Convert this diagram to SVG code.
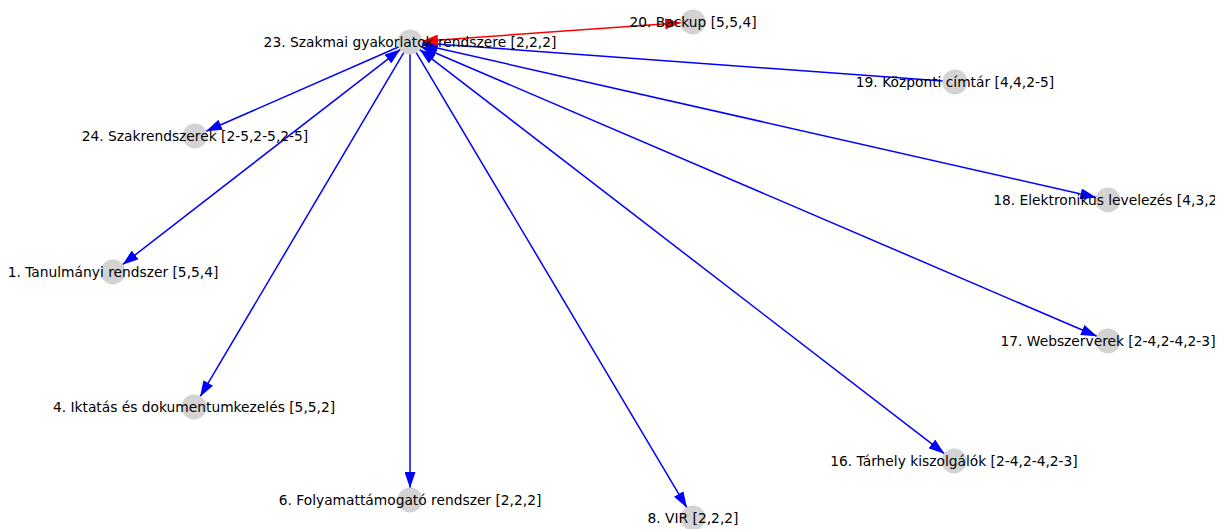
<svg xmlns="http://www.w3.org/2000/svg" width="1223" height="529" viewBox="0 0 1223 529">
  <style>
    .node circle { fill: #d3d3d3; }
    .node text { font-family: "DejaVu Sans", sans-serif; font-size: 13.8px; fill: #000; text-anchor: middle; dominant-baseline: central; }
    .edge { stroke-width: 1.5; fill: none; }
    .blue { stroke: #0000ff; }
    .red { stroke: #ff0000; }
  </style>
  <defs>
    <marker id="ab" viewBox="0 0 16 11" refX="16" refY="5.5" markerWidth="16" markerHeight="11" markerUnits="userSpaceOnUse" orient="auto-start-reverse">
      <path d="M0,0 L16,5.5 L0,11 Z" fill="#0000ff"/>
    </marker>
    <marker id="ar" viewBox="0 0 16 11" refX="16" refY="5.5" markerWidth="16" markerHeight="11" markerUnits="userSpaceOnUse" orient="auto-start-reverse">
      <path d="M0,0 L16,5.5 L0,11 Z" fill="#ff0000"/>
    </marker>
    <clipPath id="frame"><rect x="0" y="0" width="1215" height="529"/></clipPath>
  </defs>
  <rect width="1223" height="529" fill="#fff"/>

  <!-- edges from node 23 outward; shortened by the node radius at both ends -->
  <g id="connectors">
    <line class="edge blue" x1="399.0" y1="46.8" x2="206.0" y2="131.2" marker-end="url(#ab)"/>
    <line class="edge blue" x1="400.5" y1="49.3" x2="122.5" y2="264.7" marker-start="url(#ab)" marker-end="url(#ab)"/>
    <line class="edge blue" x1="403.9" y1="52.3" x2="200.1" y2="396.7" marker-end="url(#ab)"/>
    <line class="edge blue" x1="410" y1="54" x2="410" y2="488" marker-end="url(#ab)"/>
    <line class="edge blue" x1="416.1" y1="52.3" x2="686.9" y2="507.7" marker-end="url(#ab)"/>
    <line class="edge blue" x1="419.5" y1="49.3" x2="944.5" y2="453.7" marker-start="url(#ab)" marker-end="url(#ab)"/>
    <line class="edge blue" x1="421.0" y1="46.7" x2="1097.0" y2="336.3" marker-start="url(#ab)" marker-end="url(#ab)"/>
    <line class="edge blue" x1="421.7" y1="44.6" x2="1096.3" y2="197.4" marker-start="url(#ab)" marker-end="url(#ab)"/>
    <line class="edge blue" x1="422.0" y1="42.9" x2="943.0" y2="81.1" marker-start="url(#ab)"/>
    <line class="edge red" x1="422.0" y1="41.2" x2="681.0" y2="22.8" marker-start="url(#ar)" marker-end="url(#ar)"/>
  </g>

  <g clip-path="url(#frame)">
    <g id="n23" class="node"><circle cx="410" cy="42" r="12.5"/><text x="410" y="42">23. Szakmai gyakorlatok rendszere [2,2,2]</text></g>
    <g id="n20" class="node"><circle cx="693" cy="22" r="12.5"/><text x="693" y="22">20. Backup [5,5,4]</text></g>
    <g id="n19" class="node"><circle cx="955" cy="82" r="12.5"/><text x="955" y="82">19. Központi címtár [4,4,2-5]</text></g>
    <g id="n24" class="node"><circle cx="195" cy="136" r="12.5"/><text x="195" y="136">24. Szakrendszerek [2-5,2-5,2-5]</text></g>
    <g id="n18" class="node"><circle cx="1108" cy="200" r="12.5"/><text x="1108" y="200">18. Elektronikus levelezés [4,3,2]</text></g>
    <g id="n1" class="node"><circle cx="113" cy="272" r="12.5"/><text x="113" y="272">1. Tanulmányi rendszer [5,5,4]</text></g>
    <g id="n17" class="node"><circle cx="1108" cy="341" r="12.5"/><text x="1108" y="341">17. Webszerverek [2-4,2-4,2-3]</text></g>
    <g id="n4" class="node"><circle cx="194" cy="407" r="12.5"/><text x="194" y="407">4. Iktatás és dokumentumkezelés [5,5,2]</text></g>
    <g id="n16" class="node"><circle cx="954" cy="461" r="12.5"/><text x="954" y="461">16. Tárhely kiszolgálók [2-4,2-4,2-3]</text></g>
    <g id="n6" class="node"><circle cx="410" cy="500" r="12.5"/><text x="410" y="500">6. Folyamattámogató rendszer [2,2,2]</text></g>
    <g id="n8" class="node"><circle cx="693" cy="518" r="12.5"/><text x="693" y="518">8. VIR [2,2,2]</text></g>
  </g>
</svg>
